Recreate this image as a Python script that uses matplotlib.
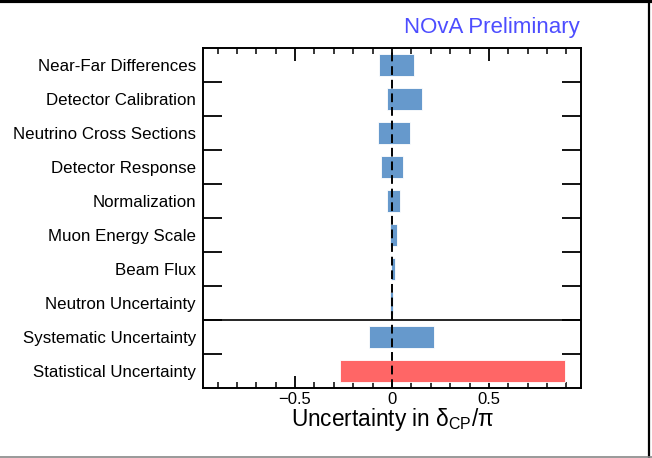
import matplotlib
matplotlib.use("Agg")
import matplotlib.pyplot as plt
from matplotlib.lines import Line2D

plt.rcParams['font.family'] = ['Liberation Sans', 'DejaVu Sans']
plt.rcParams['mathtext.fontset'] = 'custom'
plt.rcParams['mathtext.rm'] = 'Liberation Sans'

# systematic sources, top to bottom
sources = [
    "Near-Far Differences",
    "Detector Calibration",
    "Neutrino Cross Sections",
    "Detector Response",
    "Normalization",
    "Muon Energy Scale",
    "Beam Flux",
    "Neutron Uncertainty",
    "Systematic Uncertainty",
    "Statistical Uncertainty",
]
# lower / upper shift in delta_CP / pi
err_low = [-0.065, -0.027, -0.072, -0.055, -0.027, -0.010, -0.005, -0.012, -0.117, -0.266]
err_high = [0.113, 0.156, 0.094, 0.058, 0.043, 0.024, 0.017, 0.007, 0.218, 0.893]
colors = ["#6699cc"] * 9 + ["#ff6666"]

fig = plt.figure(figsize=(6.52, 4.58), dpi=100)
ax = fig.add_axes([203 / 652, 1 - 388 / 458, 378 / 652, 340 / 458])

ypos = list(range(len(sources)))
widths = [h - l for l, h in zip(err_low, err_high)]
ax.barh(ypos, widths, left=err_low, height=0.65, color=colors,
        edgecolor="white", linewidth=0.6, zorder=2)

ax.axvline(0, color="black", lw=1.4, ls=(0, (4.5, 2.5)), zorder=3)
ax.axhline(7.5, color="black", lw=1.2, zorder=3)

ax.set_xlim(-0.975, 0.975)
ax.set_ylim(9.5, -0.5)

# row boundaries as long ticks, labels at row centres
ax.set_yticks([i + 0.5 for i in range(9)])
ax.set_yticklabels([])
ax.set_yticks(ypos, minor=True)
ax.set_yticklabels(sources, minor=True, fontsize=12.2)
ax.tick_params(axis="y", which="major", direction="in", length=14, width=1.3,
               left=True, right=True)
ax.tick_params(axis="y", which="minor", length=0, pad=5)

ax.set_xticks([-0.5, 0, 0.5])
ax.set_xticklabels(["\u22120.5", "0", "0.5"])
ax.set_xticks([i / 10 for i in range(-9, 10)], minor=True)
ax.tick_params(axis="x", which="major", direction="in", length=9, width=1.3,
               top=True, bottom=True, labelsize=12, pad=3)
ax.tick_params(axis="x", which="minor", direction="in", length=4.5, width=1.1,
               top=True, bottom=True)

for s in ax.spines.values():
    s.set_linewidth(1.4)

ax.set_xlabel("Uncertainty in \u03b4$_{\\rm CP}$/\u03c0", fontsize=16.3, labelpad=-1)

fig.text(580 / 652, 1 - 27 / 458, "NOvA Preliminary", color="#4d4dff",
         fontsize=16, ha="right", va="center")

# window frame
fig.add_artist(Line2D([0, 1], [1 - 1 / 458, 1 - 1 / 458], color="black", lw=3,
                      transform=fig.transFigure))
fig.add_artist(Line2D([649 / 652, 649 / 652], [0, 1], color="black", lw=1.6,
                      transform=fig.transFigure))
fig.add_artist(Line2D([0, 1], [1.5 / 458, 1.5 / 458], color="#888888", lw=1.2,
                      transform=fig.transFigure))

fig.savefig("out.png", dpi=100)
